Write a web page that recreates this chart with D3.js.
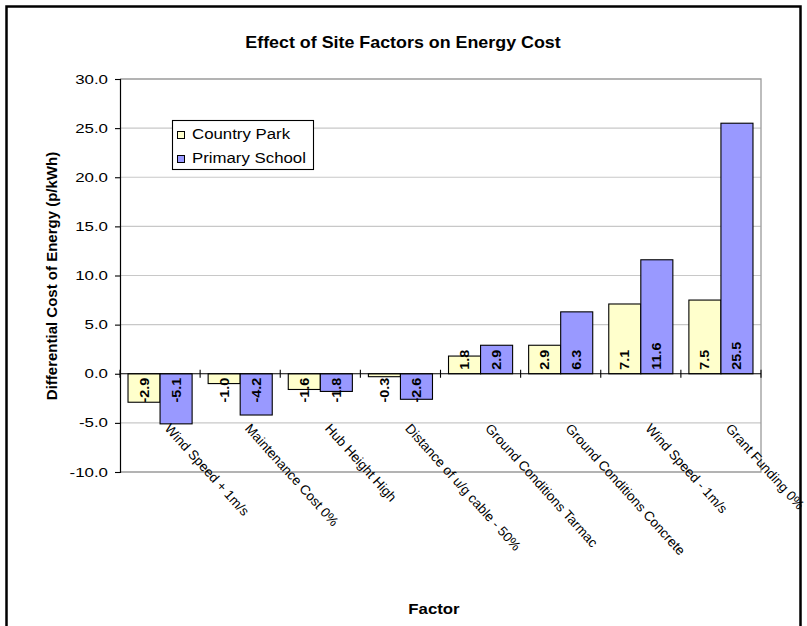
<!DOCTYPE html>
<html>
<head>
<meta charset="utf-8">
<script src="https://cdn.jsdelivr.net/npm/d3@7"></script>
<style>
  html, body { margin: 0; padding: 0; background: #fff; }
  svg { display: block; }
  text { font-family: "Liberation Sans", Arial, Helvetica, sans-serif; fill: #000; }
</style>
</head>
<body>
<svg id="chart" width="807" height="626"></svg>
<script>
// Chart data
const categories = [
  "Wind Speed + 1m/s",
  "Maintenance Cost 0%",
  "Hub Height High",
  "Distance of u/g cable - 50%",
  "Ground Conditions Tarmac",
  "Ground Conditions Concrete",
  "Wind Speed - 1m/s",
  "Grant Funding 0%"
];
const seriesNames = ["Country Park", "Primary School"];
const countryPark = [-2.9, -1.0, -1.6, -0.3, 1.8, 2.9, 7.1, 7.5];
const primarySchool = [-5.1, -4.2, -1.8, -2.6, 2.9, 6.3, 11.6, 25.5];
const yTicks = [-10, -5, 0, 5, 10, 15, 20, 25, 30];
const seriesColors = ["#ffffcc", "#9999ff"];

const chartTitle = "Effect of Site Factors on Energy Cost";
const yTitle = "Differential Cost of Energy (p/kWh)";
const xTitle = "Factor";

const svg = d3.select("#chart");
const font = '"Liberation Sans", Arial, Helvetica, sans-serif';

// One-decimal format with a plain hyphen for negatives
const fmt1 = v => d3.format(".1f")(v).replace("\u2212", "-");

// Stretch text along its own direction
function stretch(sel, k) {
  sel.each(function () {
    const len = this.getComputedTextLength();
    d3.select(this).attr("textLength", len * k).attr("lengthAdjust", "spacingAndGlyphs");
  });
}

// Outer frame
svg.append("path")
  .attr("d", "M6.5,640 V6.5 H800.5 V640")
  .attr("fill", "none")
  .attr("stroke", "#000")
  .attr("stroke-width", 2.5);

const plot = { left: 120, right: 761, top: 79, bottom: 472 };

const x = d3.scaleBand().domain(categories).range([plot.left, plot.right]).paddingInner(0).paddingOuter(0);
const xSub = d3.scaleBand().domain(seriesNames).range([0, x.bandwidth()]).paddingInner(0).paddingOuter(0.25);
const y = d3.scaleLinear().domain([-10, 30]).range([plot.bottom, plot.top]);

// Gridlines
svg.append("g").selectAll("line")
  .data(yTicks.filter(t => t !== -10 && t !== 30 && t !== 0))
  .join("line")
  .attr("x1", plot.left).attr("x2", plot.right)
  .attr("y1", d => y(d)).attr("y2", d => y(d))
  .attr("stroke", "#c8c8c8").attr("stroke-width", 1.2);

// Plot area border (top, right, bottom)
svg.append("path")
  .attr("d", `M${plot.left},${y(30)} H${plot.right} V${y(-10)} H${plot.left}`)
  .attr("fill", "none").attr("stroke", "#9a9a9a").attr("stroke-width", 1.3);

// Bars
const series = [countryPark, primarySchool];
const rows = [];
series.forEach((vals, si) => {
  vals.forEach((v, i) => rows.push({ cat: categories[i], name: seriesNames[si], si, v }));
});

svg.append("g").selectAll("rect")
  .data(rows)
  .join("rect")
  .attr("x", d => x(d.cat) + xSub(d.name))
  .attr("width", xSub.bandwidth())
  .attr("y", d => y(Math.max(0, d.v)))
  .attr("height", d => Math.abs(y(d.v) - y(0)))
  .attr("fill", d => seriesColors[d.si])
  .attr("stroke", "#000").attr("stroke-width", 1.1);

// Y axis
const yAxis = d3.axisLeft(y).tickValues(yTicks).tickSize(5).tickFormat(fmt1);
const yg = svg.append("g").attr("transform", `translate(${plot.left},0)`).call(yAxis);
yg.select(".domain").attr("stroke", "#000").attr("stroke-width", 1.2);
yg.selectAll(".tick line").attr("stroke", "#000").attr("stroke-width", 1.1);
yg.selectAll(".tick text")
  .attr("x", -12)
  .attr("font-family", font).attr("font-size", 12.5).attr("fill", "#000")
  .call(stretch, 1.35);

// X axis at zero with crossing tick marks between categories
const xg = svg.append("g");
xg.append("line")
  .attr("x1", plot.left).attr("x2", plot.right)
  .attr("y1", y(0)).attr("y2", y(0))
  .attr("stroke", "#000").attr("stroke-width", 1.2);
const boundaries = categories.map(c => x(c)).concat([plot.right]);
xg.selectAll("line.tk")
  .data(boundaries)
  .join("line").attr("class", "tk")
  .attr("x1", d => d).attr("x2", d => d)
  .attr("y1", y(0) - 4).attr("y2", y(0) + 4)
  .attr("stroke", "#000").attr("stroke-width", 1.1);

// Category labels, rotated downward
svg.append("g").selectAll("text")
  .data(categories)
  .join("text")
  .attr("transform", d => `translate(${x(d) + x.bandwidth() / 2 + 4},429) rotate(48)`)
  .attr("text-anchor", "start")
  .attr("font-size", 13.5)
  .text(d => d);

// Value labels inside the bars at their base
svg.append("g").selectAll("text")
  .data(rows)
  .join("text")
  .attr("transform", d => {
    const cx = x(d.cat) + xSub(d.name) + xSub.bandwidth() / 2;
    const yy = d.v >= 0 ? y(0) - 4 : y(0) + 4;
    return `translate(${cx},${yy}) rotate(-90)`;
  })
  .attr("dy", "0.36em")
  .attr("text-anchor", d => d.v >= 0 ? "start" : "end")
  .attr("font-size", 12.5).attr("font-weight", "bold")
  .text(d => fmt1(d.v))
  .call(stretch, 1.15);

// Legend
const lg = svg.append("g");
lg.append("rect")
  .attr("x", 172.5).attr("y", 120.5).attr("width", 141).attr("height", 49)
  .attr("fill", "#fff").attr("stroke", "#000").attr("stroke-width", 1.1);
seriesNames.forEach((name, i) => {
  lg.append("rect")
    .attr("x", 177.5).attr("y", 131.5 + i * 24).attr("width", 7).attr("height", 7)
    .attr("fill", seriesColors[i]).attr("stroke", "#000").attr("stroke-width", 1);
  lg.append("text")
    .attr("x", 192).attr("y", 139 + i * 24)
    .attr("font-size", 14)
    .text(name)
    .call(stretch, 1.2);
});

// Titles
svg.append("text")
  .attr("x", 403).attr("y", 48)
  .attr("text-anchor", "middle")
  .attr("font-size", 17).attr("font-weight", "bold")
  .text(chartTitle)
  .call(stretch, 1.05);

svg.append("text")
  .attr("transform", "translate(57,276) rotate(-90)")
  .attr("text-anchor", "middle")
  .attr("font-size", 15).attr("font-weight", "bold")
  .text(yTitle);

svg.append("text")
  .attr("x", 434).attr("y", 614)
  .attr("text-anchor", "middle")
  .attr("font-size", 15).attr("font-weight", "bold")
  .text(xTitle)
  .call(stretch, 1.12);
</script>
</body>
</html>
